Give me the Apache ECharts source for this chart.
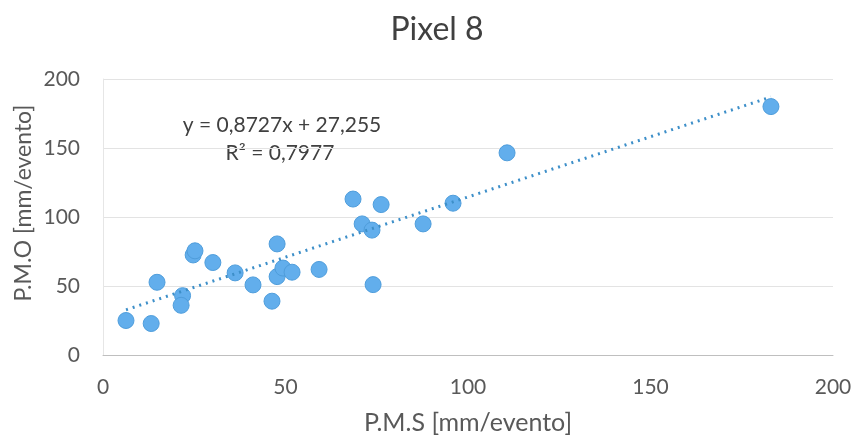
<!DOCTYPE html>
<html>
<head>
<meta charset="utf-8">
<script src="https://cdn.jsdelivr.net/npm/echarts@6/dist/echarts.min.js"></script>
<style>
  html, body { margin: 0; padding: 0; background: #fff; }
  #chart { width: 861px; height: 444px; }
</style>
</head>
<body>
<div id="chart"></div>
<script>
// valores (P.M.S, P.M.O)
const pms = [6.3, 13.2, 14.8, 21.8, 21.4, 24.7, 25.2, 30.1, 36.2, 41.1, 46.3, 47.7, 47.7, 49.3, 51.8, 59.2, 68.5, 71.0, 73.7, 76.2, 74.0, 87.7, 95.9, 110.7, 183.0]
const pmo = [25.0, 22.8, 52.7, 43.0, 36.0, 72.5, 75.5, 67.0, 59.5, 50.8, 39.0, 80.5, 56.8, 63.0, 60.0, 62.0, 113.0, 95.0, 90.5, 109.0, 51.0, 95.0, 110.0, 146.5, 180.0]
const xTicks = [0, 50, 100, 150, 200]
const yTicks = [0, 50, 100, 150, 200]
// linea de tendencia (Excel)
const slope = 0.8727
const intercept = 27.255
const r2 = '0,7977'

const points = pms.map((x, i) => [x, pmo[i]])
const xMin = Math.min(...pms)
const xMax = Math.max(...pms)
const trend = [[xMin, slope * xMin + intercept], [xMax, slope * xMax + intercept]]

const font = 'Lato, "Open Sans", sans-serif'
const chart = echarts.init(document.getElementById('chart'))
chart.setOption({
  animation: false,
  title: {
    text: 'Pixel 8',
    left: 432,
    top: 9,
    textAlign: 'center',
    textStyle: { fontFamily: font, fontSize: 32, fontWeight: 'normal', color: '#404040' }
  },
  grid: { left: 103, right: 28, top: 79, bottom: 89 },
  xAxis: {
    type: 'value',
    min: xTicks[0],
    max: xTicks[xTicks.length - 1],
    interval: 50,
    name: 'P.M.S [mm/evento]',
    nameLocation: 'middle',
    nameGap: 55,
    nameTextStyle: { fontFamily: font, fontSize: 25, color: '#595959' },
    axisLine: { lineStyle: { color: '#bfbfbf' } },
    axisTick: { show: false },
    axisLabel: { fontFamily: font, fontSize: 21, color: '#595959', margin: 22 },
    splitLine: { show: false }
  },
  yAxis: {
    type: 'value',
    min: yTicks[0],
    max: yTicks[yTicks.length - 1],
    interval: 50,
    axisLine: { show: true, lineStyle: { color: '#e6e6e6' } },
    axisTick: { show: false },
    axisLabel: { fontFamily: font, fontSize: 21, color: '#595959', margin: 23 },
    splitLine: { lineStyle: { color: '#e3e3e3' } }
  },
  graphic: [
    {
      type: 'text', x: 24, y: 203, rotation: Math.PI / 2,
      style: { text: 'P.M.O [mm/evento]', fontFamily: font, fontSize: 23, fill: '#595959', align: 'center', verticalAlign: 'middle' }
    },
    {
      type: 'text', x: 282, y: 125,
      style: { text: 'y = 0,8727x + 27,255', fontFamily: font, fontSize: 21, fill: '#404040', align: 'center', verticalAlign: 'middle' }
    },
    {
      type: 'text', x: 280, y: 153,
      style: { text: 'R² = ' + r2, fontFamily: font, fontSize: 21, fill: '#404040', align: 'center', verticalAlign: 'middle' }
    }
  ],
  series: [
    {
      type: 'line',
      data: trend,
      symbol: 'none',
      lineStyle: { color: '#3d8fc9', width: 3, type: [2, 5] },
      z: 3
    },
    {
      type: 'scatter',
      data: points,
      symbolSize: 16,
      itemStyle: { color: '#62aeec', borderColor: '#4f9ddb', borderWidth: 1, opacity: 1 },
      z: 2
    }
  ]
})
</script>
</body>
</html>
